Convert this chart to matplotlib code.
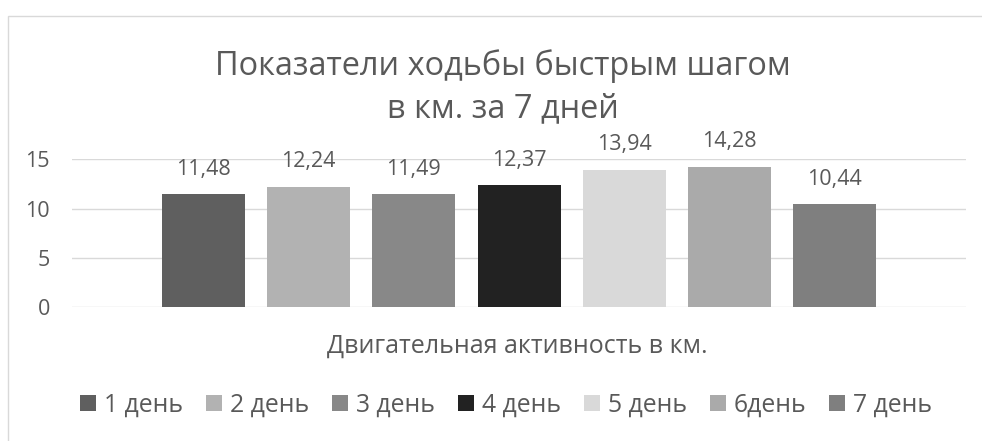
import matplotlib
matplotlib.use("Agg")
import matplotlib.pyplot as plt
from matplotlib.patches import Rectangle

plt.rcParams['font.family'] = ['Open Sans', 'DejaVu Sans']

title_lines = ["Показатели ходьбы быстрым шагом", "в км. за 7 дней"]
x_label = "Двигательная активность в км."
series_names = ["1 день", "2 день", "3 день", "4 день", "5 день", "6день", "7 день"]
values = [11.48, 12.24, 11.49, 12.37, 13.94, 14.28, 10.44]
value_labels = ["11,48", "12,24", "11,49", "12,37", "13,94", "14,28", "10,44"]
colors = ["#5f5f5f", "#b2b2b2", "#888888", "#222222", "#d9d9d9", "#aaaaaa", "#7f7f7f"]
y_ticks = [0, 5, 10, 15]

W, H = 982, 441
fig = plt.figure(figsize=(W / 100, H / 100), dpi=100)
fig.patch.set_facecolor("white")

# chart border
fig.patches.append(Rectangle((7.5 / W, -0.2), 1.2, 1.2 - 15.7 / H,
                             transform=fig.transFigure, fill=False,
                             edgecolor="#d9d9d9", linewidth=1.0))

ax = fig.add_axes([72 / W, (H - 307) / H, 894 / W, 147.5 / H])
ax.set_xlim(-0.5, 0.5)
ax.set_ylim(0, 15)

bar_w = 83 / 894
pitch = 105.3 / 894
n = len(values)
text_col = "#595959"
lab_fs = 15.5
for i, (v, c, lab, name) in enumerate(zip(values, colors, value_labels, series_names)):
    xc = (i - (n - 1) / 2) * pitch
    ax.bar(xc, v, width=bar_w, color=c, label=name, zorder=3)
    ax.annotate(lab, (xc, v), xytext=(0, 18), textcoords="offset points",
                ha="center", va="center", fontsize=lab_fs, color=text_col,
                annotation_clip=False)

ax.set_yticks(y_ticks)
ax.set_yticklabels([str(t) for t in y_ticks], fontsize=lab_fs, color=text_col)
ax.tick_params(axis="y", length=0, pad=16)
ax.set_xticks([])
for s in ax.spines.values():
    s.set_visible(False)
ax.grid(axis="y", color="#d9d9d9", linewidth=1.0, zorder=0)
ax.set_axisbelow(True)

fig.text(503 / W, 1 - 75 / H, title_lines[0], ha="center", va="baseline",
         fontsize=23.4, color=text_col)
fig.text(503 / W, 1 - 117 / H, title_lines[1], ha="center", va="baseline",
         fontsize=23.4, color=text_col)
fig.text(517.5 / W, 1 - 353 / H, x_label, ha="center", va="baseline",
         fontsize=18, color=text_col)

handles, labels = ax.get_legend_handles_labels()
leg = fig.legend(handles, labels, ncol=7, loc="center",
                 bbox_to_anchor=(506 / W, 1 - 405 / H), frameon=False,
                 fontsize=17.8, handlelength=0.65, handleheight=0.65,
                 handletextpad=0.32, columnspacing=0.93, borderaxespad=0,
                 borderpad=0)
for t in leg.get_texts():
    t.set_color(text_col)

fig.savefig("out.png", dpi=100)
